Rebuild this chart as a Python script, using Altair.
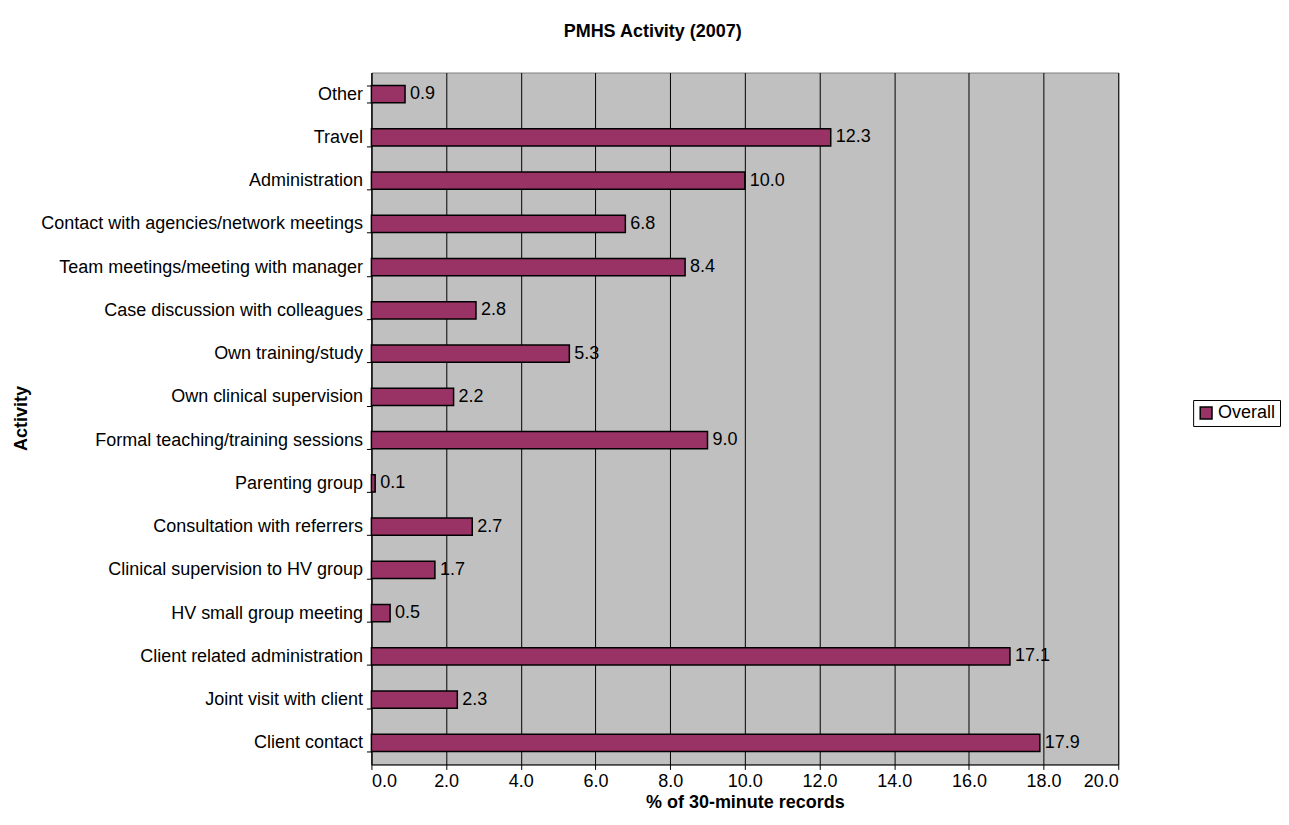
import altair as alt
import pandas as pd

categories = [
    "Other", "Travel", "Administration", "Contact with agencies/network meetings",
    "Team meetings/meeting with manager", "Case discussion with colleagues",
    "Own training/study", "Own clinical supervision", "Formal teaching/training sessions",
    "Parenting group", "Consultation with referrers", "Clinical supervision to HV group",
    "HV small group meeting", "Client related administration", "Joint visit with client",
    "Client contact",
]
values = [0.9, 12.3, 10.0, 6.8, 8.4, 2.8, 5.3, 2.2, 9.0, 0.1, 2.7, 1.7, 0.5, 17.1, 2.3, 17.9]
series = ["Overall"] * len(categories)
x_ticks = [0, 2, 4, 6, 8, 10, 12, 14, 16, 18, 20]

df = pd.DataFrame({"Activity": categories, "Value": values, "Series": series})

FONT = "Liberation Sans"
FS = 18

y_enc = alt.Y(
    "Activity:N",
    sort=categories,
    title="Activity",
    scale=alt.Scale(paddingInner=0.6, paddingOuter=0.3),
    axis=alt.Axis(
        tickBand="extent",
        tickSize=5,
        tickColor="black",
        domainColor="black",
        labelFontSize=FS,
        labelColor="black",
        labelPadding=4,
        titleFontSize=FS,
        titleFontWeight="bold",
        titleColor="black",
        titleX=-350,
        titleY=346,
        titleAngle=270,
        titleAlign="center",
        titleBaseline="middle",
        labelLimit=500,
    ),
)

x_enc = alt.X(
    "Value:Q",
    title="% of 30-minute records",
    scale=alt.Scale(domain=[0, 20], nice=False),
    axis=alt.Axis(
        values=x_ticks,
        format=".1f",
        grid=True,
        gridColor="black",
        gridWidth=1,
        tickSize=5,
        tickColor="black",
        domainColor="black",
        labelFontSize=FS,
        labelColor="black",
        labelPadding=3,
        titleFontSize=FS,
        titleFontWeight="bold",
        titleColor="black",
        titlePadding=3,
    ),
)

bars = alt.Chart(df).mark_bar(stroke="black", strokeWidth=1.5).encode(
    y=y_enc,
    x=x_enc,
    color=alt.Color(
        "Series:N",
        scale=alt.Scale(domain=["Overall"], range=["#993366"]),
        legend=alt.Legend(
            title=None,
            orient="none",
            legendX=823,
            legendY=328,
            symbolType="square",
            symbolSize=140,
            symbolStrokeColor="black",
            symbolStrokeWidth=1.5,
            labelFontSize=FS,
            labelColor="black",
            strokeColor="black",
            padding=4,
            labelOffset=3,
        ),
    ),
)

labels = alt.Chart(df).mark_text(
    align="left", baseline="middle", dx=5, fontSize=FS, color="black", font=FONT
).encode(
    y=alt.Y("Activity:N", sort=categories),
    x=alt.X("Value:Q"),
    text=alt.Text("Value:Q", format=".1f"),
)

chart = (
    alt.layer(bars, labels)
    .properties(
        width=748,
        height=693,
        padding={"top": 14, "left": 5, "right": 0, "bottom": 0},
        title=alt.TitleParams(
            "PMHS Activity (2007)",
            fontSize=FS,
            fontWeight="bold",
            font=FONT,
            color="black",
            anchor="middle",
            frame="bounds",
            offset=23,
            dx=6,
        ),
    )
    .configure(font=FONT)
    .configure_view(fill="#C0C0C0", stroke="#808080", strokeWidth=1)
)

chart.save("out.html", embed_options={"renderer": "svg", "actions": False})
